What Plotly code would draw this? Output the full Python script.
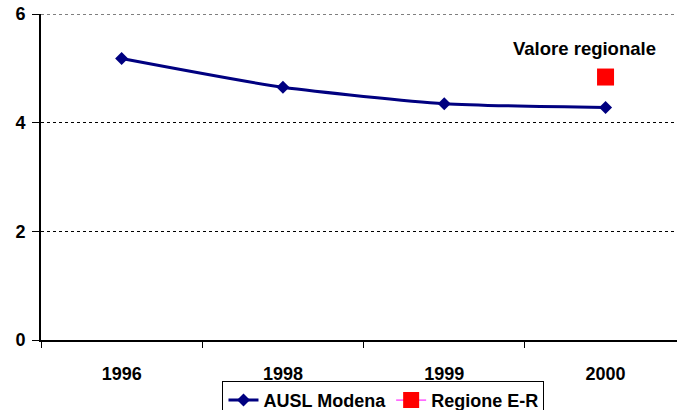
import plotly.graph_objects as go

years = ["1996", "1998", "1999", "2000"]
ausl_modena = [5.18, 4.65, 4.35, 4.28]
regione_years = ["2000"]
regione_er = [4.84]
y_ticks = [0, 2, 4, 6]

FONT = "Arial, Liberation Sans, sans-serif"

fig = go.Figure()
fig.add_trace(go.Scatter(
    x=years, y=ausl_modena, name="AUSL Modena",
    mode="lines+markers",
    line=dict(color="#000080", width=3, shape="spline", smoothing=0.6),
    marker=dict(symbol="diamond", size=10, color="#000080"),
))
fig.add_trace(go.Scatter(
    x=regione_years, y=regione_er, name="Regione E-R",
    mode="lines+markers",
    line=dict(color="#FF00FF", width=1),
    marker=dict(symbol="square", size=17, color="#FF0000"),
))

fig.add_annotation(
    x=3, y=5.37, xref="x", yref="y", text="Valore regionale",
    showarrow=False, xshift=-21,
    font=dict(family=FONT, size=18.5, color="black", weight="bold"),
)

# dotted gridline at the top tick (plotly hides gridlines on the plot edge)
fig.add_shape(type="line", xref="paper", yref="y", x0=0, x1=1, y0=y_ticks[-1], y1=y_ticks[-1],
              line=dict(color="black", width=1, dash="dot"), layer="below")

fig.update_layout(
    width=677, height=410,
    margin=dict(l=41, r=0, t=14, b=70, autoexpand=False),
    plot_bgcolor="white", paper_bgcolor="white",
    font=dict(family=FONT, size=18, color="black", weight="bold"),
    showlegend=True,
    legend=dict(
        orientation="h", x=0.5385, xanchor="center",
        yref="container", y=0.071, yanchor="top",
        bordercolor="black", borderwidth=1, bgcolor="white",
        font=dict(family=FONT, size=18, color="black", weight="bold"),
        itemwidth=30, tracegroupgap=0,
    ),
    xaxis=dict(
        type="category", range=[-0.5, 3.443], automargin=False,
        showline=True, linecolor="black", linewidth=2,
        ticks="outside", tickson="boundaries", ticklen=6, tickcolor="black", tickwidth=1,
        ticklabelstandoff=16, ticklabeloverflow="allow",
        showgrid=False, zeroline=False,
        tickfont=dict(family=FONT, size=18, color="black", weight="bold"),
    ),
    yaxis=dict(
        range=[0, 6], tickvals=y_ticks, automargin=False,
        showline=True, linecolor="black", linewidth=2,
        ticks="outside", ticklen=7, tickcolor="black", tickwidth=1,
        ticklabelstandoff=3, ticklabeloverflow="allow",
        showgrid=True, gridcolor="black", griddash="dot", gridwidth=1,
        zeroline=False,
        tickfont=dict(family=FONT, size=18, color="black", weight="bold"),
    ),
)

fig.write_html(
    "out.html",
    config={"displayModeBar": False},
    post_script="document.body.style.margin='0';document.body.style.overflow='hidden';",
)
